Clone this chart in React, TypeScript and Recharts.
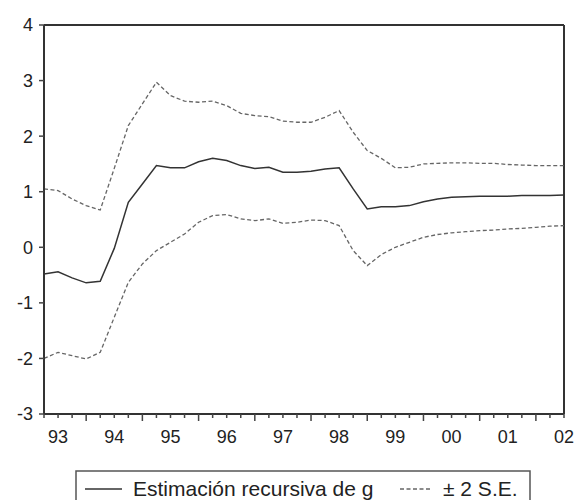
import React from "react";
import { LineChart, Line, XAxis, YAxis, ReferenceLine, Legend } from "recharts";

// quarterly sample, 1993Q2 - 2002Q3
const quarters = [
    "1993Q2", "1993Q3", "1993Q4",
    "1994Q1", "1994Q2", "1994Q3", "1994Q4",
    "1995Q1", "1995Q2", "1995Q3", "1995Q4",
    "1996Q1", "1996Q2", "1996Q3", "1996Q4",
    "1997Q1", "1997Q2", "1997Q3", "1997Q4",
    "1998Q1", "1998Q2", "1998Q3", "1998Q4",
    "1999Q1", "1999Q2", "1999Q3", "1999Q4",
    "2000Q1", "2000Q2", "2000Q3", "2000Q4",
    "2001Q1", "2001Q2", "2001Q3", "2001Q4",
    "2002Q1", "2002Q2", "2002Q3",
];

const estimate = [
    -0.48, -0.44, -0.55, -0.64, -0.61, -0.02, 0.81, 1.14, 1.47, 1.43,
    1.43, 1.54, 1.6, 1.56, 1.47, 1.42, 1.44, 1.35, 1.35, 1.37,
    1.41, 1.43, 1.05, 0.69, 0.73, 0.73, 0.75, 0.82, 0.87, 0.9,
    0.91, 0.92, 0.92, 0.92, 0.93, 0.93, 0.93, 0.94,
];

const upperBand = [
    1.05, 1.02, 0.87, 0.75, 0.67, 1.42, 2.19, 2.58, 2.97, 2.73,
    2.63, 2.61, 2.63, 2.55, 2.41, 2.37, 2.35, 2.27, 2.25, 2.25,
    2.34, 2.46, 2.07, 1.74, 1.6, 1.43, 1.44, 1.5, 1.51, 1.52,
    1.52, 1.51, 1.51, 1.49, 1.48, 1.47, 1.47, 1.47,
];

const lowerBand = [
    -2.0, -1.89, -1.95, -2.01, -1.89, -1.26, -0.63, -0.3, -0.06, 0.09,
    0.24, 0.45, 0.57, 0.59, 0.51, 0.48, 0.51, 0.43, 0.45, 0.49,
    0.48, 0.39, -0.06, -0.33, -0.13, 0.0, 0.09, 0.18, 0.23, 0.26,
    0.28, 0.3, 0.31, 0.33, 0.34, 0.36, 0.38, 0.39,
];

// year labels sit mid-year (Q3), long ticks at Q1
const yearLabels = ["93", "94", "95", "96", "97", "98", "99", "00", "01", "02"];
const labelQuarters = [
    "1993Q3", "1994Q3", "1995Q3", "1996Q3", "1997Q3",
    "1998Q3", "1999Q3", "2000Q3", "2001Q3", "2002Q3",
];
const yTicks = [-3, -2, -1, 0, 1, 2, 3, 4];

const data = quarters.map((q, i) => ({
    q,
    est: estimate[i],
    up: upperBand[i],
    lo: lowerBand[i],
}));

const FONT = "'Liberation Sans', Arial, sans-serif";
const AXIS = "#333";

const QuarterTick = (props: any) => {
    const { x, y, payload } = props;
    const q: string = String(payload.value);
    const major = q.endsWith("Q1");
    const li = labelQuarters.indexOf(q);
    const px = Number(x);
    const py = Number(y);
    return (
        <g>
            <rect x={px - 0.75} y={py} width={1.5} height={major ? 7 : 4} fill="#444" />
            {li >= 0 && (
                <text x={px} y={py + 29} textAnchor="middle" fontSize={18} fill="#222" fontFamily={FONT}>
                    {yearLabels[li]}
                </text>
            )}
        </g>
    );
};

const renderLegend = () => (
    <svg width={456} height={34} style={{ display: "block" }}>
        <path d="M1,34 L1,1 L455,1 L455,34" fill="none" stroke="#555" strokeWidth={1.5} />
        <line x1={10} x2={47} y1={19} y2={19} stroke="#333" strokeWidth={1.4} />
        <text x={58} y={25.5} fontSize={21} fill="#222" fontFamily={FONT}>
            Estimación recursiva de g
        </text>
        <line x1={325} x2={357} y1={19} y2={19} stroke="#666" strokeWidth={1.3} strokeDasharray="4 2.5" />
        <text x={368} y={25.5} fontSize={21} fill="#222" fontFamily={FONT}>
            ± 2 S.E.
        </text>
    </svg>
);

export default function App() {
    return (
        <div style={{ position: "absolute", left: 0, top: 0, width: 574, height: 500, background: "#fff" }}>
            <LineChart width={574} height={500} data={data} margin={{ top: 25, right: 10, left: 0, bottom: 0 }}>
                <XAxis
                    dataKey="q"
                    interval={0}
                    height={86}
                    tickSize={0}
                    tickMargin={0}
                    tickLine={false}
                    tick={<QuarterTick />}
                    axisLine={{ stroke: AXIS, strokeWidth: 2 }}
                />
                <YAxis
                    type="number"
                    domain={[-3, 4]}
                    ticks={yTicks}
                    width={44}
                    tickSize={5}
                    tickMargin={6}
                    tick={{ fontSize: 18, fill: "#222", fontFamily: FONT }}
                    tickLine={{ stroke: "#444", strokeWidth: 1.5 }}
                    axisLine={{ stroke: AXIS, strokeWidth: 2 }}
                    allowDataOverflow
                />
                <ReferenceLine y={4} stroke={AXIS} strokeWidth={2} />
                <ReferenceLine x="2002Q3" stroke={AXIS} strokeWidth={2} />
                <Line dataKey="up" stroke="#666" strokeWidth={1.3} strokeDasharray="4 2.5" dot={false} isAnimationActive={false} />
                <Line dataKey="lo" stroke="#666" strokeWidth={1.3} strokeDasharray="4 2.5" dot={false} isAnimationActive={false} />
                <Line dataKey="est" stroke="#333" strokeWidth={1.5} dot={false} isAnimationActive={false} />
                <Legend
                    layout="horizontal"
                    verticalAlign="middle"
                    align="center"
                    content={renderLegend}
                    wrapperStyle={{ left: 75, top: 470, width: 456, height: 34 }}
                />
            </LineChart>
        </div>
    );
}
